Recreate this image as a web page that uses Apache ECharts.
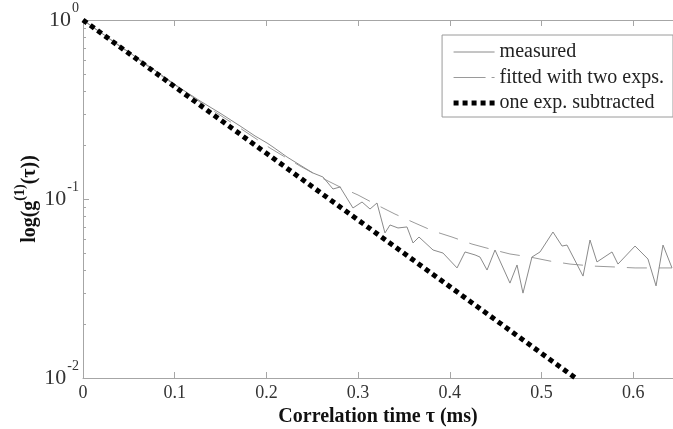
<!DOCTYPE html>
<html>
<head>
<meta charset="utf-8">
<script src="https://cdn.jsdelivr.net/npm/echarts@6/dist/echarts.min.js"></script>
<style>
html,body{margin:0;padding:0;background:#fff;}
#c{width:673px;height:429px;}
</style>
</head>
<body>
<div id="c"></div>
<script>
// ---- data (time in ms, correlation g1) ----
var measuredT = [0, 0.0185, 0.0403, 0.0622, 0.0840, 0.1058, 0.1276, 0.1494, 0.1712, 0.1876, 0.2007, 0.2072, 0.2225, 0.2366, 0.2508, 0.2617, 0.2726, 0.2803, 0.2944, 0.3043, 0.3130, 0.3206, 0.3293, 0.3348, 0.3435, 0.3533, 0.3599, 0.3664, 0.3817, 0.3926, 0.4079, 0.4166, 0.4275, 0.4329, 0.4406, 0.4493, 0.4656, 0.4733, 0.4798, 0.4896, 0.4984, 0.5125, 0.5224, 0.5278, 0.5453, 0.5529, 0.5605, 0.5769, 0.5834, 0.6020, 0.6161, 0.6249, 0.6325, 0.6423];
var measuredV = [1.0, 0.857, 0.716, 0.598, 0.499, 0.417, 0.353, 0.302, 0.256, 0.225, 0.2055, 0.1952, 0.1716, 0.1548, 0.1397, 0.1327, 0.1137, 0.1167, 0.0891, 0.0962, 0.0879, 0.0950, 0.0646, 0.0716, 0.0689, 0.0698, 0.0568, 0.0613, 0.0519, 0.0499, 0.0412, 0.0506, 0.0487, 0.0474, 0.0401, 0.0519, 0.0339, 0.0428, 0.0298, 0.0474, 0.0506, 0.0654, 0.0546, 0.0553, 0.0371, 0.0590, 0.0445, 0.0506, 0.0433, 0.0546, 0.0462, 0.0327, 0.0553, 0.0412];

var fittedT = [0, 0.0403, 0.0840, 0.1276, 0.1712, 0.2039, 0.2366, 0.2585, 0.2803, 0.2999, 0.3184, 0.3402, 0.3620, 0.3817, 0.4024, 0.4242, 0.4438, 0.4656, 0.4875, 0.5093, 0.5311, 0.5562, 0.5802, 0.6020, 0.6423];
var fittedV = [1.0, 0.711, 0.493, 0.348, 0.249, 0.1927, 0.1529, 0.1327, 0.1167, 0.1053, 0.0938, 0.0824, 0.0734, 0.0663, 0.0613, 0.0560, 0.0526, 0.0493, 0.0474, 0.0450, 0.0433, 0.0422, 0.0417, 0.0412, 0.0412];

var oneExpT = [0, 0.1, 0.2, 0.3, 0.4, 0.5, 0.537];
var oneExpV = [1.0, 0.424, 0.180, 0.0763, 0.0324, 0.01373, 0.01];

var seriesNames = ['measured', 'fitted with two exps.', 'one exp. subtracted'];
var xTicks = [0, 0.1, 0.2, 0.3, 0.4, 0.5, 0.6];
var yTickExp = ['0', '-1', '-2'];   // for 10^0, 10^-1, 10^-2
var yMinorTicks = [0.02, 0.03, 0.04, 0.05, 0.06, 0.07, 0.08, 0.09, 0.2, 0.3, 0.4, 0.5, 0.6, 0.7, 0.8, 0.9];
var xTitle = 'Correlation time \u03c4 (ms)';

function zip(a, b) { return a.map(function (v, i) { return [v, b[i]]; }); }

var serif = "'Liberation Serif', 'Times New Roman', serif";
var axisGray = '#a6a6a6';
var X_MAX = 0.6434;
var hiddenSym = {opacity: 0, color: 'rgba(0,0,0,0)', borderWidth: 0};

var chart = echarts.init(document.getElementById('c'), null, {renderer: 'canvas'});
chart.setOption({
  animation: false,
  backgroundColor: '#ffffff',
  grid: {left: 83, top: 20, right: 0, bottom: 51, containLabel: false, outerBoundsMode: 'none'},
  legend: {
    orient: 'vertical',
    right: 0,
    top: 35,
    backgroundColor: '#fff',
    borderColor: '#9a9a9a',
    borderWidth: 1,
    padding: [7, 9, 4, 9],
    itemGap: 5.5,
    itemWidth: 41,
    itemHeight: 10,
    textStyle: {fontFamily: serif, fontSize: 20, color: '#222'},
    data: [
      {name: seriesNames[0], itemStyle: hiddenSym, lineStyle: {width: 1, color: '#8a8a8a', type: 'solid'}},
      {name: seriesNames[1], itemStyle: hiddenSym, lineStyle: {width: 1, color: '#9a9a9a', type: [32, 6]}},
      {name: seriesNames[2], itemStyle: hiddenSym, lineStyle: {width: 5, color: '#000', type: [5, 4]}}
    ]
  },
  xAxis: [{
    type: 'value',
    min: 0,
    max: X_MAX,
    interval: 0.1,
    position: 'bottom',
    name: xTitle,
    nameLocation: 'middle',
    nameGap: 23,
    nameTextStyle: {fontFamily: serif, fontSize: 20, fontWeight: 'bold', color: '#111'},
    axisLine: {show: true, onZero: false, lineStyle: {color: axisGray, width: 1}},
    axisTick: {show: true, inside: true, length: 6, lineStyle: {color: axisGray}},
    splitLine: {show: false},
    axisLabel: {
      showMaxLabel: false,
      margin: 6,
      fontFamily: serif, fontSize: 18, color: '#333',
      formatter: function (v) {
        for (var i = 0; i < xTicks.length; i++) if (Math.abs(xTicks[i] - v) < 1e-6) return String(xTicks[i]);
        return '';
      }
    }
  }, {
    type: 'value',
    min: 0,
    max: X_MAX,
    interval: 0.1,
    position: 'top',
    axisLine: {show: true, onZero: false, lineStyle: {color: axisGray, width: 1}},
    axisTick: {show: true, inside: true, length: 6, lineStyle: {color: axisGray}},
    splitLine: {show: false},
    axisLabel: {show: false}
  }],
  yAxis: {
    type: 'log',
    logBase: 10,
    min: 0.01,
    max: 1,
    name: '{a|log(g}{s|(1)}{a|(\u03c4))}',
    nameLocation: 'middle',
    nameRotate: 90,
    nameGap: 36,
    nameMoveOverlap: false,
    nameTextStyle: {
      rich: {
        a: {fontFamily: serif, fontSize: 20, fontWeight: 'bold', color: '#111', lineHeight: 34, verticalAlign: 'middle'},
        s: {fontFamily: serif, fontSize: 14, fontWeight: 'bold', color: '#111', lineHeight: 14, verticalAlign: 'top'}
      }
    },
    axisLine: {show: true, onZero: false, lineStyle: {color: axisGray, width: 1}},
    axisTick: {show: true, inside: true, length: 6, lineStyle: {color: axisGray}},
    splitLine: {show: false},
    axisLabel: {
      margin: 4,
      formatter: function (v) {
        var k = -Math.round(Math.log(v) / Math.LN10);
        var e = yTickExp[k];
        if (e === undefined) return '';
        return '{b|10}{s|' + e + '}';
      },
      rich: {
        b: {fontFamily: serif, fontSize: 22, color: '#333', lineHeight: 38, verticalAlign: 'middle'},
        s: {fontFamily: serif, fontSize: 14, color: '#333', lineHeight: 14, verticalAlign: 'top', padding: [0, 0, 0, 1]}
      }
    }
  },
  series: [
    {
      type: 'custom',
      name: 'minorTicks',
      silent: true,
      xAxisIndex: 0,
      clip: false,
      data: yMinorTicks.map(function (v) { return [0, v]; }),
      renderItem: function (params, api) {
        var p = api.coord([api.value(0), api.value(1)]);
        return {
          type: 'line',
          shape: {x1: p[0], y1: Math.round(p[1]) + 0.5, x2: p[0] + 3, y2: Math.round(p[1]) + 0.5},
          style: {stroke: axisGray, lineWidth: 1}
        };
      },
      z: 1
    },
    {
      name: seriesNames[0],
      type: 'line',
      xAxisIndex: 0,
      data: zip(measuredT, measuredV),
      showSymbol: false,
      symbol: 'none',
      lineStyle: {color: '#8a8a8a', width: 1},
      itemStyle: {color: '#8a8a8a'},
      z: 3
    },
    {
      name: seriesNames[1],
      type: 'line',
      xAxisIndex: 0,
      data: zip(fittedT, fittedV),
      showSymbol: false,
      symbol: 'none',
      lineStyle: {color: '#9a9a9a', width: 1, type: [20, 12]},
      itemStyle: {color: '#9a9a9a'},
      z: 2
    },
    {
      name: seriesNames[2],
      type: 'line',
      xAxisIndex: 0,
      data: zip(oneExpT, oneExpV),
      showSymbol: false,
      symbol: 'none',
      lineStyle: {color: '#000', width: 5, type: [5, 4], cap: 'butt'},
      itemStyle: {color: '#000'},
      z: 4
    }
  ]
});
</script>
</body>
</html>
